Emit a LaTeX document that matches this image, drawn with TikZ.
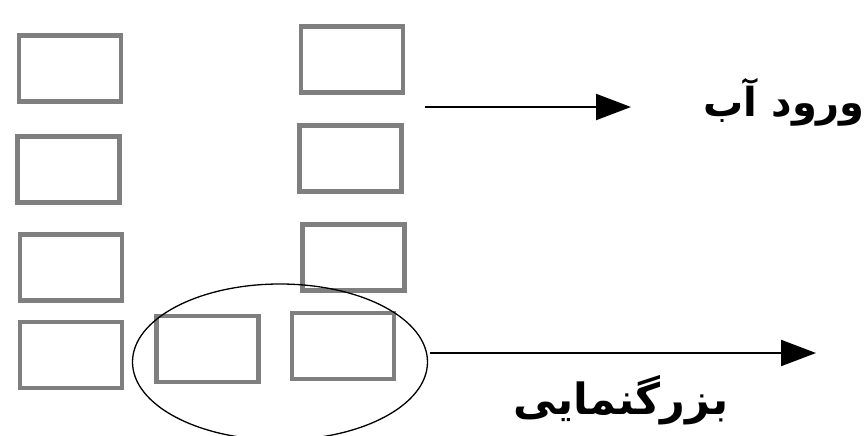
\documentclass[tikz,border=0pt]{standalone}
\usepackage{fontspec}
\newfontfamily\arabicfont[Script=Arabic]{DejaVu Sans}
\TeXXeTstate=1
\usetikzlibrary{shapes.geometric,arrows.meta}
\definecolor{boxgray}{HTML}{7F7F7F}
\tikzset{
  cell/.style={draw=boxgray,line width=4.5pt,minimum width=102pt,minimum height=66pt,inner sep=0pt},
  flowarrow/.style={line width=2.2pt,-{Triangle[length=35pt,width=26pt]}},
  label/.style={font=\arabicfont\bfseries\fontsize{43}{48}\selectfont,inner sep=0pt}
}
\begin{document}
\begin{tikzpicture}[x=1pt,y=-1pt]
\useasboundingbox (0,0) rectangle (867,436);
% left column
\node[cell] (L1) at (70,68.5) {};
\node[cell] (L2) at (68.5,169.5) {};
\node[cell] (L3) at (71,267.5) {};
\node[cell] (L4) at (71,355) {};
% bottom middle
\node[cell] (M) at (207.5,349) {};
% right column
\node[cell] (R1) at (352,59.5) {};
\node[cell] (R2) at (350.5,158.5) {};
\node[cell] (R3) at (353.5,257.5) {};
\node[cell] (R4) at (343,346) {};
% magnification ellipse
\node[ellipse,draw=black,line width=1.3pt,minimum width=295pt,minimum height=156pt,inner sep=0pt] (E) at (280,362) {};
% labels
\node[label,font=\arabicfont\bfseries\fontsize{40}{46}\selectfont,anchor=east] (T1) at (865,102) {\beginR ورود آب\endR};
\node[label] (T2) at (621,400) {\beginR بزرگنمایی\endR};
% arrows
\coordinate (A1s) at (425,107);
\coordinate (A1e) at (631,107);
\coordinate (A2s) at (430,353);
\coordinate (A2e) at (816,353);
\draw[flowarrow] (A1s) -- (A1e);
\draw[flowarrow] (A2s) -- (A2e);
\end{tikzpicture}
\end{document}
